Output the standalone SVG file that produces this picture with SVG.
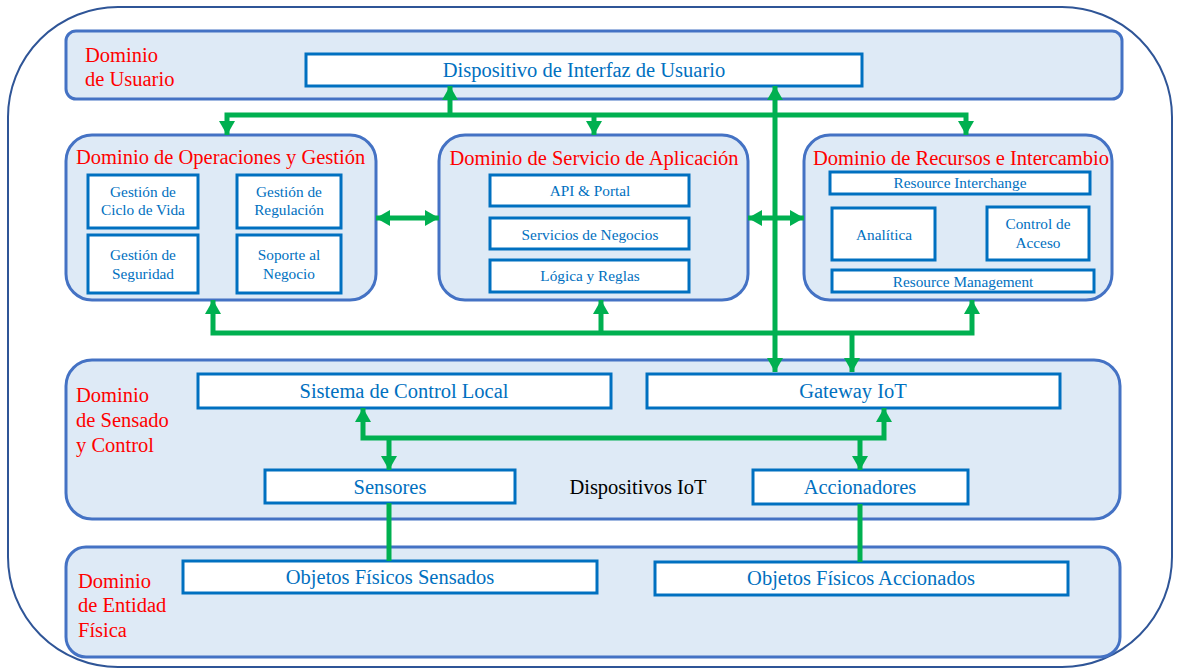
<svg xmlns="http://www.w3.org/2000/svg" width="1182" height="671" viewBox="0 0 1182 671">
  <defs>
    <marker id="ah" viewBox="0 0 14 16" refX="14" refY="8" markerWidth="14" markerHeight="16" markerUnits="userSpaceOnUse" orient="auto-start-reverse">
      <path d="M0,0 L14,8 L0,16 z" fill="#00B050"/>
    </marker>
    <style>
      .frame { fill: #ffffff; stroke: #2F5597; stroke-width: 2; }
      .domain { fill: #DEEAF6; stroke: #4472C4; stroke-width: 3; }
      .box { fill: #ffffff; stroke: #0070C0; stroke-width: 3; }
      .dlabel { font-family: "Liberation Serif", "Times New Roman", serif; font-size: 20.5px; fill: #FF0000; }
      .btext { font-family: "Liberation Serif", "Times New Roman", serif; fill: #0070C0; text-anchor: middle; }
      .big { font-size: 20.5px; }
      .small { font-size: 15.3px; }
      .plain { font-family: "Liberation Serif", "Times New Roman", serif; font-size: 20.5px; fill: #000000; text-anchor: middle; }
      .link { fill: none; stroke: #00B050; stroke-width: 5; }
    </style>
  </defs>

  <!-- outer frame -->
  <rect class="frame" x="8" y="7" width="1164" height="660" rx="110" ry="110"/>

  <!-- user domain -->
  <g id="dominio-usuario">
    <rect class="domain" x="66" y="31" width="1056" height="68" rx="10"/>
    <text class="dlabel" x="85" y="62">Dominio</text>
    <text class="dlabel" x="85" y="86">de Usuario</text>
  </g>
  <g id="dispositivo-interfaz">
    <rect class="box" x="306" y="54" width="556" height="32"/>
    <text class="btext big" x="584" y="77">Dispositivo de Interfaz de Usuario</text>
  </g>

  <!-- operations & management domain -->
  <g id="dominio-operaciones">
    <rect class="domain" x="66" y="135" width="310" height="165" rx="26"/>
    <text class="dlabel" x="76" y="164">Dominio de Operaciones y Gestión</text>
    <rect class="box" x="88" y="175" width="110" height="53"/>
    <text class="btext small" x="143" y="197">Gestión de</text>
    <text class="btext small" x="143" y="215">Ciclo de Vida</text>
    <rect class="box" x="237" y="175" width="104" height="53"/>
    <text class="btext small" x="289" y="197">Gestión de</text>
    <text class="btext small" x="289" y="215">Regulación</text>
    <rect class="box" x="88" y="235" width="110" height="58"/>
    <text class="btext small" x="143" y="260">Gestión de</text>
    <text class="btext small" x="143" y="279">Seguridad</text>
    <rect class="box" x="237" y="235" width="104" height="58"/>
    <text class="btext small" x="289" y="260">Soporte al</text>
    <text class="btext small" x="289" y="279">Negocio</text>
  </g>

  <!-- application service domain -->
  <g id="dominio-servicio">
    <rect class="domain" x="439" y="135" width="309" height="165" rx="26"/>
    <text class="dlabel" x="594" y="165" text-anchor="middle">Dominio de Servicio de Aplicación</text>
    <rect class="box" x="490" y="175" width="199" height="31"/>
    <text class="btext small" x="590" y="196">API &amp; Portal</text>
    <rect class="box" x="490" y="218" width="199" height="31"/>
    <text class="btext small" x="590" y="240">Servicios de Negocios</text>
    <rect class="box" x="490" y="260" width="199" height="32"/>
    <text class="btext small" x="590" y="281">Lógica y Reglas</text>
  </g>

  <!-- resource & interchange domain -->
  <g id="dominio-recursos">
    <rect class="domain" x="804" y="135" width="308" height="165" rx="26"/>
    <text class="dlabel" x="961" y="165" text-anchor="middle">Dominio de Recursos e Intercambio</text>
    <rect class="box" x="830" y="172" width="260" height="22"/>
    <text class="btext small" x="960" y="188">Resource Interchange</text>
    <rect class="box" x="832" y="208" width="103" height="52"/>
    <text class="btext small" x="884" y="240">Analítica</text>
    <rect class="box" x="987" y="207" width="102" height="53"/>
    <text class="btext small" x="1038" y="229">Control de</text>
    <text class="btext small" x="1038" y="248">Acceso</text>
    <rect class="box" x="832" y="270" width="262" height="22"/>
    <text class="btext small" x="963" y="287">Resource Management</text>
  </g>

  <!-- sensing & control domain -->
  <g id="dominio-sensado">
    <rect class="domain" x="66" y="360" width="1054" height="159" rx="26"/>
    <text class="dlabel" x="76" y="402">Dominio</text>
    <text class="dlabel" x="76" y="427">de Sensado</text>
    <text class="dlabel" x="76" y="452">y Control</text>
    <text class="plain" x="638" y="494">Dispositivos IoT</text>
  </g>
  <g id="control-local">
    <rect class="box" x="198" y="374" width="413" height="34"/>
    <text class="btext big" x="404" y="398">Sistema de Control Local</text>
  </g>
  <g id="gateway">
    <rect class="box" x="647" y="374" width="413" height="34"/>
    <text class="btext big" x="853" y="398">Gateway IoT</text>
  </g>
  <g id="sensores">
    <rect class="box" x="265" y="470" width="250" height="33"/>
    <text class="btext big" x="390" y="494">Sensores</text>
  </g>
  <g id="accionadores">
    <rect class="box" x="753" y="470" width="215" height="34"/>
    <text class="btext big" x="860" y="494">Accionadores</text>
  </g>

  <!-- physical entity domain -->
  <g id="dominio-entidad">
    <rect class="domain" x="66" y="547" width="1054" height="110" rx="20"/>
    <text class="dlabel" x="78" y="588">Dominio</text>
    <text class="dlabel" x="78" y="612">de Entidad</text>
    <text class="dlabel" x="78" y="637">Física</text>
  </g>
  <g id="objetos-sensados">
    <rect class="box" x="183" y="561" width="414" height="32"/>
    <text class="btext big" x="390" y="584">Objetos Físicos Sensados</text>
  </g>
  <g id="objetos-accionados">
    <rect class="box" x="655" y="562" width="413" height="33"/>
    <text class="btext big" x="861" y="585">Objetos Físicos Accionados</text>
  </g>

  <!-- connectors -->
  <g id="connectors">
    <path class="link" d="M227,135 L227,115 L966,115 L966,135" marker-start="url(#ah)" marker-end="url(#ah)"/>
    <path class="link" d="M594,115 L594,135" marker-end="url(#ah)"/>
    <path class="link" d="M450,115 L450,86" marker-end="url(#ah)"/>
    <path class="link" d="M775,372 L775,86" marker-start="url(#ah)" marker-end="url(#ah)"/>
    <path class="link" d="M376,218 L439,218" marker-start="url(#ah)" marker-end="url(#ah)"/>
    <path class="link" d="M748,218 L804,218" marker-start="url(#ah)" marker-end="url(#ah)"/>
    <path class="link" d="M213,300 L213,333 L972,333 L972,300" marker-start="url(#ah)" marker-end="url(#ah)"/>
    <path class="link" d="M601,333 L601,300" marker-end="url(#ah)"/>
    <path class="link" d="M852,333 L852,372" marker-end="url(#ah)"/>
    <path class="link" d="M363,408 L363,438 L884,438 L884,408" marker-start="url(#ah)" marker-end="url(#ah)"/>
    <path class="link" d="M389,438 L389,470" marker-end="url(#ah)"/>
    <path class="link" d="M860,438 L860,470" marker-end="url(#ah)"/>
    <path class="link" d="M389,503 L389,561"/>
    <path class="link" d="M860,504 L860,562"/>
  </g>
</svg>
